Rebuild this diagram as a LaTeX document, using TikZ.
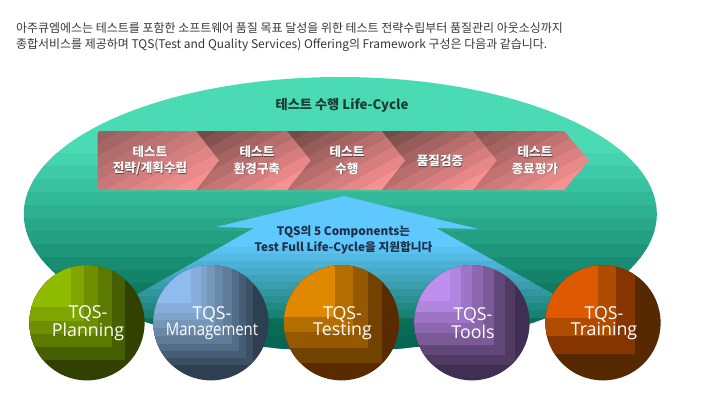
\documentclass[tikz,border=0pt]{standalone}
\usepackage{fontspec}
\setmainfont{Noto Sans CJK KR}
\newfontfamily\latinf{Open Sans}
\newfontfamily\latincond[FakeStretch=0.85]{Open Sans}
\definecolor{ea}{HTML}{4ADBB5}
\definecolor{eb}{HTML}{2FB494}
\definecolor{ec}{HTML}{0F7D63}
\definecolor{ed}{HTML}{05604F}
\definecolor{aa}{HTML}{5FC8FF}
\definecolor{ab}{HTML}{3B9FB0}
\definecolor{ac}{HTML}{0F7A65}
\definecolor{chevhi}{HTML}{F79090}
\definecolor{chevsh}{HTML}{5A4040}
\definecolor{arrowtext}{HTML}{1F2F45}
\definecolor{titletext}{HTML}{1C3A36}
\definecolor{chevlast}{HTML}{8A5552}
\definecolor{chevmid}{HTML}{744A47}
\definecolor{chevfirst}{HTML}{9A6060}
\newcommand{\shd}[1]{\leavevmode\rlap{\raisebox{-.6pt}{\hspace{.6pt}\textcolor{chevsh}{#1}}}#1}
% x0, shoulder, tip, start colour, corner radius
\newcommand{\chev}[5]{%
  \begin{scope}
    \clip (#2,131) -- (#3,160.5) -- (#2,190) [rounded corners=#5pt] -- (#1,190) -- (#1,131) [sharp corners] -- cycle;
    \pgfmathsetmacro{\aA}{#1}
    \pgfmathsetmacro{\aB}{#2+107}
    \foreach \i in {0,...,8}{
      \pgfmathsetmacro{\pa}{\aA+(\aB-\aA)*\i/9}
      \pgfmathsetmacro{\pb}{\pa+(\aB-\aA)/9+1}
      \pgfmathsetmacro{\pc}{100*\i/8}
      \colorlet{bandc}{chevhi!\pc!#4}
      \fill[bandc] (\pa,131) -- (\pb,131) -- (\pb-107,190) -- (\pa-107,190) -- cycle;
    }
  \end{scope}}
% centre x, levels, name, text
\newcommand{\tqs}[4]{%
  \begin{scope}
    \clip (#1,322.8) circle (57.6);
    \foreach \x/\y/\c in {#2}{
      \definecolor{lvl}{HTML}{\c}
      \fill[lvl] (#1-60,260) rectangle (\x,\y);
    }
  \end{scope}
  \node[tqslabel] (#3) at (#1+1,323) {#4};}
\tikzset{
  x=1pt,y=-1pt,
  headline/.style={anchor=west,inner sep=0,text=black!78,font=\fontsize{11.96}{14}\selectfont},
  chevlabel/.style={align=center,inner sep=0,text=white,font=\bfseries\fontsize{12.6}{16.7}\selectfont},
  arrowlabel/.style={align=center,inner sep=0,text=arrowtext,font=\bfseries\fontsize{11.7}{15.7}\selectfont},
  tqslabel/.style={align=center,inner sep=0,text=white,font=\latinf\fontsize{17.8}{16.5}\selectfont},
}
\begin{document}
\begin{tikzpicture}
\useasboundingbox (0,0) rectangle (708,407);
\fill[white] (0,0) rectangle (708,407);
\node[headline] (line1) at (16,28) {아주큐엠에스는 테스트를 포함한 소프트웨어 품질 목표 달성을 위한 테스트 전략수립부터 품질관리 아웃소싱까지};
\node[headline] (line2) at (16,45) {종합서비스를 제공하며 TQS(Test and Quality Services) Offering의 Framework 구성은 다음과 같습니다.};
% ellipse
\begin{scope}
  \clip (340.3,214) ellipse (316.5 and 137);
  \fill[ea] (0,70) rectangle (708,141);
  \foreach \y in {140,153,...,348}{
    \ifdim\y pt<200pt
      \pgfmathsetmacro{\pp}{100*(\y-140)/60}\colorlet{bandc}{eb!\pp!ea}
    \else\ifdim\y pt<280pt
      \pgfmathsetmacro{\pp}{100*(\y-200)/80}\colorlet{bandc}{ec!\pp!eb}
    \else
      \pgfmathsetmacro{\pp}{100*(\y-280)/70}\colorlet{bandc}{ed!\pp!ec}
    \fi\fi
    \fill[bandc] (0,\y) rectangle (708,\y+14);
  }
  % arrow
  \begin{scope}
    \clip (344,196) -- (478,229) -- (436,228) -- (599,320) -- (92,320) -- (254,228) -- (216,227) -- cycle;
    \fill[aa] (0,190) rectangle (708,241);
    \foreach \y in {240,247,...,316}{
      \ifdim\y pt<280pt
        \pgfmathsetmacro{\pp}{100*(\y-240)/40}\colorlet{bandc}{ab!\pp!aa}
      \else
        \pgfmathsetmacro{\pp}{100*(\y-280)/38}\colorlet{bandc}{ac!\pp!ab}
      \fi
      \fill[bandc] (0,\y) rectangle (708,\y+8);
    }
  \end{scope}
\end{scope}
\node[inner sep=0,text=titletext,font=\bfseries\fontsize{13.2}{15}\selectfont] (title) at (342,105) {테스트 수행 Life-Cycle};
% chevrons
\chev{473}{564}{589}{chevlast}{0}
\chev{381}{473}{496.7}{chevmid}{0}
\chev{287}{381.7}{405}{chevmid}{0}
\chev{196}{287}{310.7}{chevmid}{0}
\chev{97.5}{196}{219}{chevfirst}{3}
\node[chevlabel] (c1) at (150,160.5) {\shd{테스트}\\\shd{전략/계획수립}};
\node[chevlabel] (c2) at (257,160.5) {\shd{테스트}\\\shd{환경구축}};
\node[chevlabel] (c3) at (347,160.5) {\shd{테스트}\\\shd{수행}};
\node[chevlabel] (c4) at (440,161) {\shd{품질검증}};
\node[chevlabel] (c5) at (535,160.5) {\shd{테스트}\\\shd{종료평가}};
\node[arrowlabel] (al) at (343.5,240) {TQS의 5 Components는\\Test Full Life-Cycle을 지원합니다};
% circles
\tqs{87}{150/390/334100,125/360/465F00,111.7/347/5C7A00,97.7/334/6F8F00,84/321/7FA600,70.7/306.7/8FBC00}{planning}{TQS-\\Planning}
\tqs{211}{280/390/2F3F52,253/365/3C5065,246/358/475D76,239/351/526D88,232/344/5F7C9B,223/336/6A88A8,215/328/7597B8,207/320/7FA4CC,201/313/87AEDC,191/303/8FBBEE}{management}{TQS-\\{\latincond\fontsize{17.5}{16.5}\selectfont Management}}
\tqs{341.5}{410/390/5A2A00,382/363/724300,367.7/347.7/965800,353/332/B46E00,335/316.7/E08800}{testing}{TQS-\\Testing}
\tqs{472}{540/390/3F2F52,515/365/503A62,505/355/62477A,494/345/7C5A96,483/333/8D68AE,471.7/323/9E74C6,461/311.7/B085DD,450/300.7/C08EEE}{tools}{TQS-\\Tools}
\tqs{603}{670/390/572900,635/354/873500,616/336/B04C00,598/318/DE5900}{training}{TQS-\\Training}
\end{tikzpicture}
\end{document}
